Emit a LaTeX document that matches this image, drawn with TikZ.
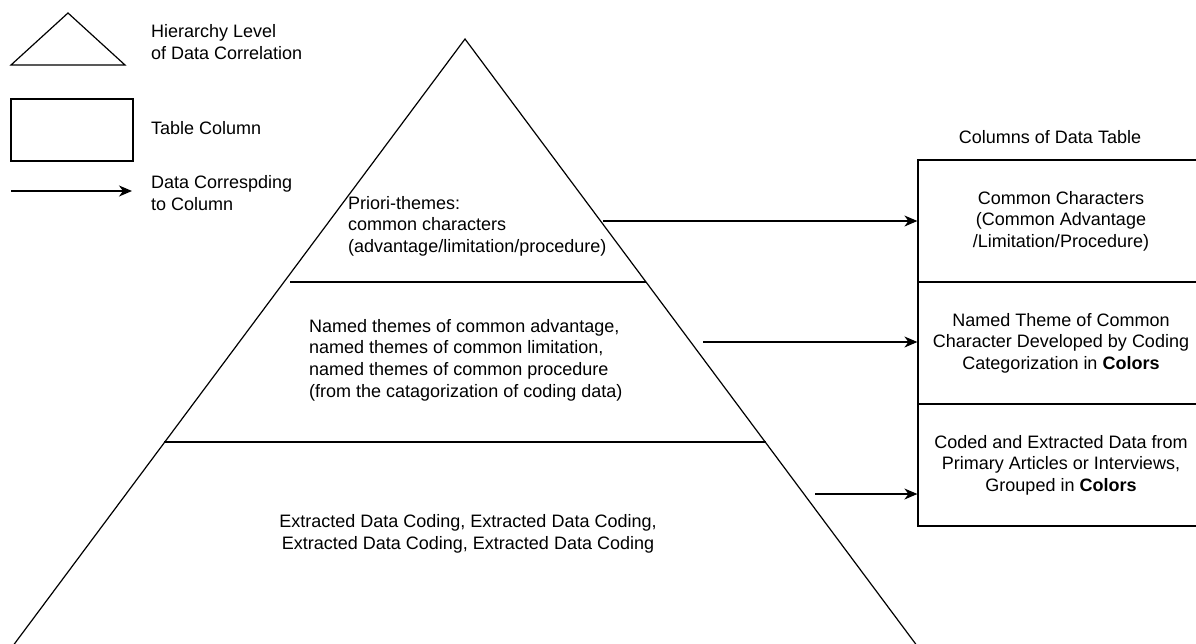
\documentclass[tikz,border=0pt]{standalone}
\usepackage{fontspec}
\setmainfont{Liberation Sans}
\usetikzlibrary{arrows.meta}

\tikzset{
  txt/.style={inner sep=0pt, font=\fontsize{18}{21.6}\selectfont},
  col/.style={draw, line width=1.2pt, minimum width=286pt, minimum height=122pt,
    align=center, inner sep=0pt, font=\fontsize{18}{21.6}\selectfont},
  link/.style={line width=1.2pt, -{Stealth[length=13pt,width=11pt,inset=4pt]}},
  edge/.style={line width=1.2pt}
}

\begin{document}
\begin{tikzpicture}[x=1pt, y=-1pt]
    \useasboundingbox (0,0) rectangle (1196,643);
    %legend
    \draw[edge] (68,13) -- (125,65) -- (11,65) -- cycle;
    \draw[edge] (11,99) rectangle (133,161);
    \coordinate (la) at (11,191);
    \coordinate (lb) at (132,191);
    \draw[link] (la) -- (lb);
    \node[txt, anchor=west, align=left] (lhier) at (151,42) {Hierarchy Level\\of Data Correlation};
    \node[txt, anchor=west] (lcol) at (151,128) {Table Column};
    \node[txt, anchor=west, align=left] (ldata) at (151,193) {Data Correspding\\to Column};

    %pyramid
    \coordinate (apex) at (465,39);
    \draw[edge] (2.4,660) -- (apex) -- (927.6,660);
    \draw[edge] (290,282) -- (646,282);
    \draw[edge] (164,442) -- (766,442);
    \node[txt, anchor=west, align=left] (priori) at (348,226)
      {Priori-themes:\\common characters\\(advantage/limitation/procedure)};
    \node[txt, anchor=west, align=left] (named) at (309,360)
      {Named themes of common advantage,\\named themes of common limitation,\\named themes of common procedure\\(from the catagorization of coding data)};
    \node[txt, align=center] (extract) at (468,534)
      {Extracted Data Coding, Extracted Data Coding,\\Extracted Data Coding, Extracted Data Coding};

    %table columns
    \node[txt] (title) at (1050,137) {Columns of Data Table};
    \node[col] (c1) at (1061,221) {Common Characters\\(Common Advantage\\/Limitation/Procedure)};
    \node[col] (c2) at (1061,343) {Named Theme of Common\\Character Developed by Coding\\Categorization in \textbf{Colors}};
    \node[col] (c3) at (1061,465) {Coded and Extracted Data from\\Primary Articles or Interviews,\\Grouped in \textbf{Colors}};

    %arrows
    \coordinate (p1) at (603,221);
    \coordinate (p2) at (703,342);
    \coordinate (p3) at (815,494);
    \draw[link] (p1) -- (p1 -| c1.west);
    \draw[link] (p2) -- (p2 -| c2.west);
    \draw[link] (p3) -- (p3 -| c3.west);


\end{tikzpicture}
\end{document}
